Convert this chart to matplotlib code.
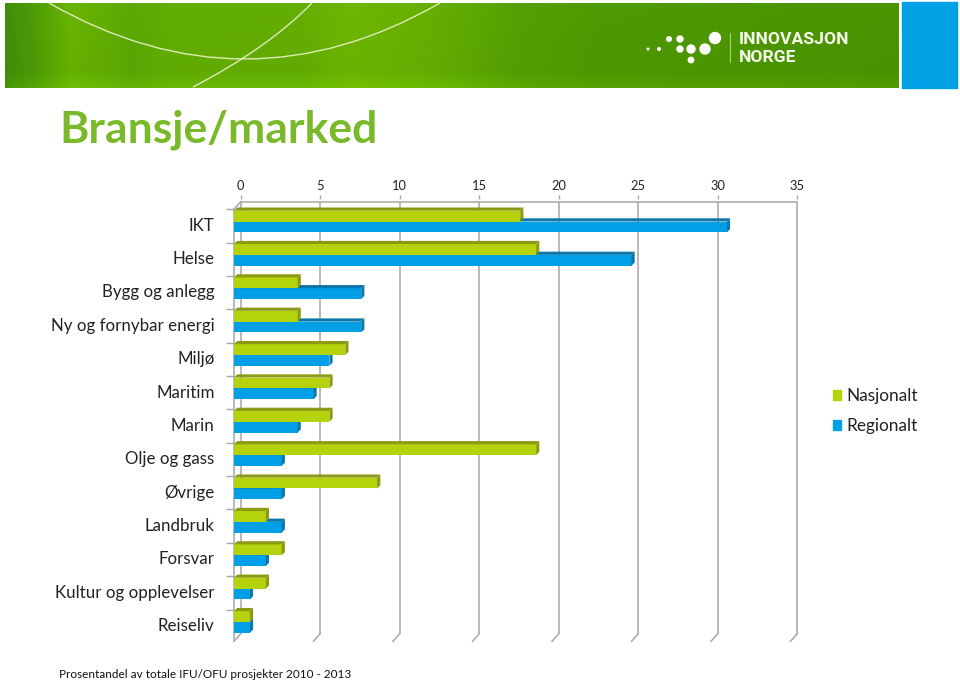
import matplotlib
matplotlib.use("Agg")
import matplotlib.pyplot as plt
import numpy as np
from matplotlib.patches import Circle, PathPatch, Patch, Rectangle
from matplotlib.path import Path

plt.rcParams["font.family"] = ["Lato", "DejaVu Sans"]

categories = ["IKT", "Helse", "Bygg og anlegg", "Ny og fornybar energi", "Miljø", "Maritim",
              "Marin", "Olje og gass", "Øvrige", "Landbruk", "Forsvar",
              "Kultur og opplevelser", "Reiseliv"]
nasjonalt = [18, 19, 4, 4, 7, 6, 6, 19, 9, 2, 3, 2, 1]
regionalt = [31, 25, 8, 8, 6, 5, 4, 3, 3, 3, 2, 1, 1]
x_ticks = [0, 5, 10, 15, 20, 25, 30, 35]

W, H = 960, 683
GREEN, GREEN_DARK = "#B4D30C", "#8C9A12"
BLUE, BLUE_DARK = "#01A0E6", "#0C77A8"
GRID = "#A6A6A6"

fig = plt.figure(figsize=(W / 100, H / 100), dpi=100)

# --- page furniture, in pixel coordinates ---
bg = fig.add_axes([0, 0, 1, 1])
bg.axis("off")

stops_x = [0, 30, 70, 105, 130, 170, 300, 350, 440, 520, 600, 895]
stops_c = ["#3E8C08", "#4C9A06", "#68B302", "#63AE02", "#5AA804", "#62AE03",
           "#64AE03", "#6DB600", "#64AE02", "#559F02", "#4E9A02", "#4A9500"]
rgb = np.array([matplotlib.colors.to_rgb(c) for c in stops_c])
xs = np.arange(5, 899)
row = np.stack([np.interp(xs, stops_x, rgb[:, i]) for i in range(3)], axis=1)
shade = np.interp(np.arange(3, 88), [3, 10, 70, 84, 88], [1.0, 1.0, 0.98, 1.04, 1.08])
band = np.clip(row[None, :, :] * shade[:, None, None], 0, 1)
bg.imshow(band, extent=(5, 899, 88, 3), aspect="auto", interpolation="bilinear", zorder=1)
bg.set_xlim(0, W)
bg.set_ylim(H, 0)
bg.add_patch(Rectangle((902, 2), 55, 86, color="#00A1E4", zorder=1))

for verts in ([(49, 3), (245, 115), (440, 3)], [(312, 3), (268, 48), (193, 87)]):
    path = Path(verts, [Path.MOVETO, Path.CURVE3, Path.CURVE3])
    bg.add_patch(PathPatch(path, fc="none", ec="#DDEBB8", lw=1.0, zorder=2))

dots = [(715, 38, 5.5), (705, 49, 5), (691, 49, 4), (680, 49, 3), (680, 39, 3),
        (669, 39, 2.3), (691, 60, 2.7), (659, 49, 1.3), (648, 49, 0.8)]
for cx, cy, r in dots:
    bg.add_patch(Circle((cx, cy), r, color="white", zorder=3))
bg.plot([730, 730], [33, 62], color="#A9CF7A", lw=0.8, zorder=3)
bg.text(739, 40, "INNOVASJON", color="#F4F8EA", fontsize=12.6, fontweight="bold",
        family=["Roboto", "DejaVu Sans"], va="center", zorder=3)
bg.text(739, 57, "NORGE", color="#F4F8EA", fontsize=12.6, fontweight="bold",
        family=["Roboto", "DejaVu Sans"], va="center", zorder=3)

bg.text(59, 130, "Bransje/marked", color="#7AB929", fontsize=32, fontweight="bold",
        va="center", ha="left")
bg.text(59, 675, "Prosentandel av totale IFU/OFU prosjekter 2010 - 2013", color="#111111",
        fontsize=8.5, va="center", ha="left")

# --- chart axes: x in percent, y in category rows ---
PX_X = 15.9      # pixels per percent
PX_Y = 33.37     # pixels per row
X0, Y0 = 234, 221.5
wall_dx, wall_dy = 6.7 / PX_X, 7.5 / PX_Y
bar_dx, bar_dy = 3.2 / PX_X, 3.2 / PX_Y
bar_h = 10.8 / PX_Y

# room for the back wall on the right, or the 35 tick drops out
x_max = 35 + wall_dx + 0.05
ax = fig.add_axes([X0 / W, 1 - 641 / H, x_max * PX_X / W, (641 - 199) / H])
ax.patch.set_visible(False)
for s in ax.spines.values():
    s.set_visible(False)

rows = np.arange(len(categories))
ticks = np.array(x_ticks, dtype=float)

front_top = -0.5 + 0.13
front_bottom = rows[-1] + 0.58
back_top = front_top - wall_dy
back_bottom = front_bottom - wall_dy

ax.vlines(ticks + wall_dx, back_top, back_bottom, color=GRID, lw=1.1, clip_on=False, zorder=1)
ax.plot([wall_dx, 35 + wall_dx], [back_top, back_top], color=GRID, lw=1.1, clip_on=False, zorder=1)
for t in ticks:
    ax.plot([t, t + wall_dx], [front_bottom, back_bottom], color=GRID, lw=1.1, clip_on=False, zorder=1)
ax.plot([0, 0], [front_top, front_bottom], color=GRID, lw=1.1, clip_on=False, zorder=1)
ax.plot([0, wall_dx], [front_top, back_top], color=GRID, lw=1.1, clip_on=False, zorder=1)


def draw_bars(values, y_top, color, dark, z):
    ax.barh(y_top + bar_h / 2, values, height=bar_h, color=color, zorder=z)
    for v, y in zip(values, y_top):
        ax.fill([0, bar_dx, v + bar_dx, v], [y, y - bar_dy, y - bar_dy, y],
                color=dark, lw=0, clip_on=False, zorder=z)
        ax.fill([v, v + bar_dx, v + bar_dx, v],
                [y, y - bar_dy, y + bar_h - bar_dy, y + bar_h],
                color=dark, lw=0, clip_on=False, zorder=z)


draw_bars(regionalt, rows.astype(float), BLUE, BLUE_DARK, 3)
draw_bars(nasjonalt, rows - bar_h, GREEN, GREEN_DARK, 4)

ax.xaxis.tick_top()
ax.set_xticks(ticks + wall_dx, [str(t) for t in x_ticks])
ax.tick_params(axis="x", length=3, width=1, color=GRID, pad=2, labelsize=9.3, labelcolor="#222222")

ax.set_yticks(rows + 0.08, categories)
ax.tick_params(axis="y", length=0, pad=14, labelsize=12.2, labelcolor="#222222")
ax.set_yticks(np.arange(len(categories) + 1) - 0.5 + 0.13, minor=True)
ax.tick_params(axis="y", which="minor", length=6, width=1, color=GRID)

# set_xticks widens the view, so the limits go last
ax.set_xlim(0, x_max)
ax.set_ylim((641 - Y0) / PX_Y, (199 - Y0) / PX_Y)

handles = [Patch(color=GREEN, label="Nasjonalt"), Patch(color=BLUE, label="Regionalt")]
fig.legend(handles=handles, loc="center left", bbox_to_anchor=(817 / W, 1 - 411 / H), frameon=False,
           fontsize=12.4, handlelength=0.52, handleheight=0.52, handletextpad=0.3,
           labelspacing=0.85, labelcolor="#222222")

fig.savefig("out.png", dpi=100)
